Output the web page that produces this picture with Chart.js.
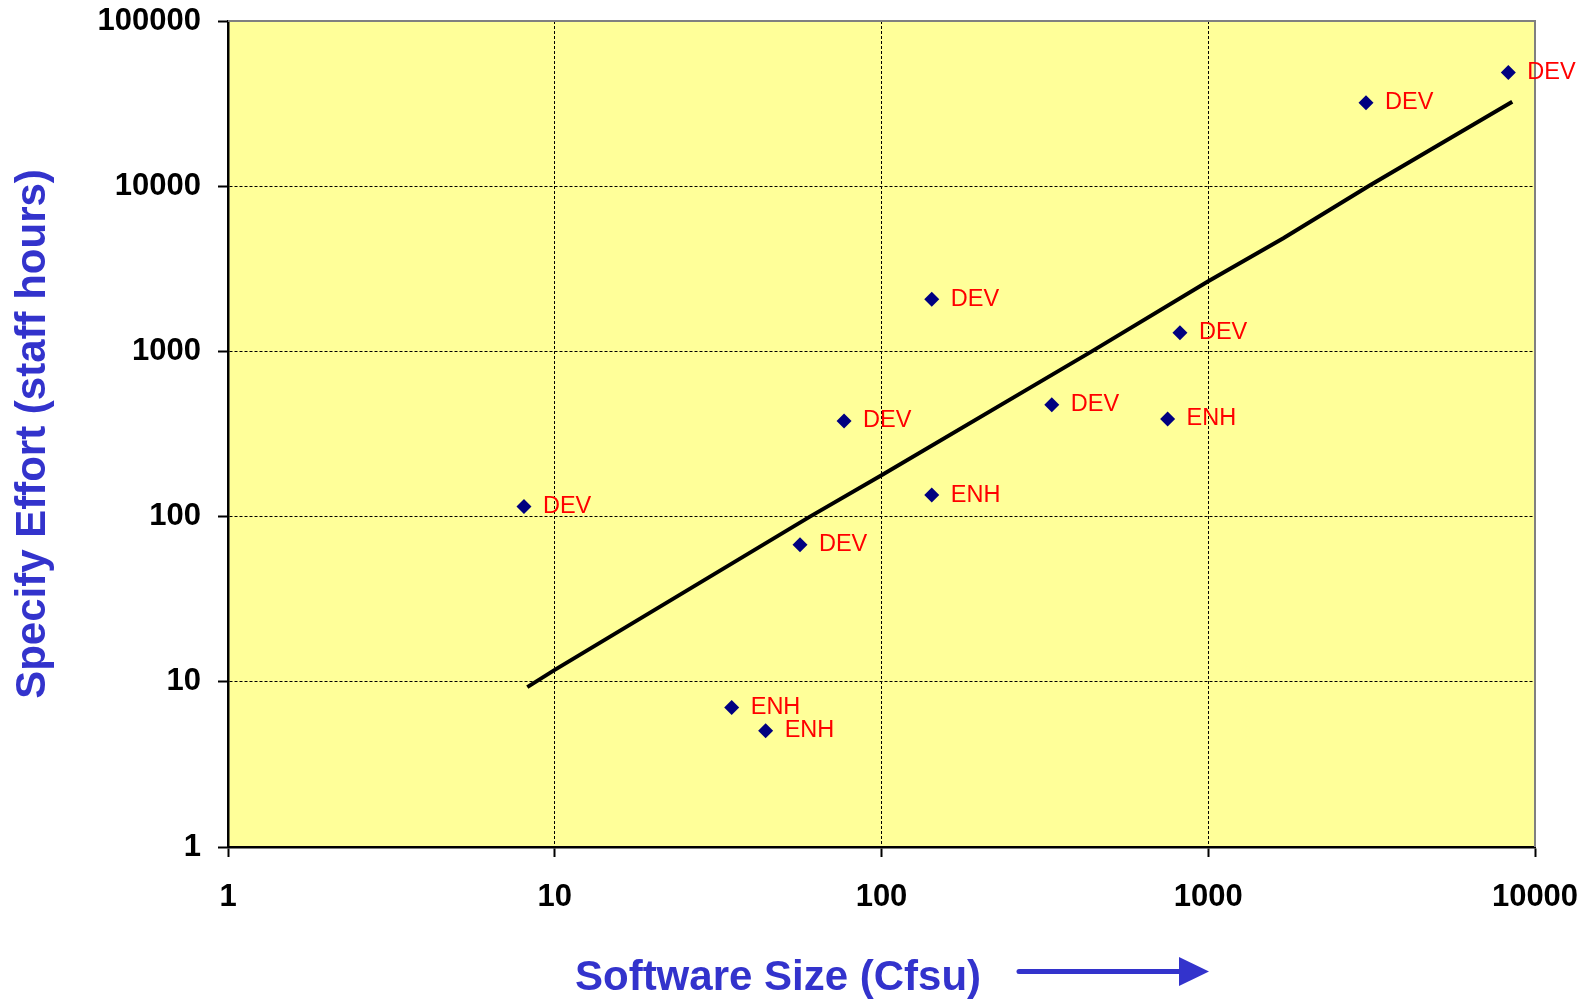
<!DOCTYPE html>
<html>
<head>
<meta charset="utf-8">
<script src="https://cdn.jsdelivr.net/npm/chart.js@4"></script>
<style>
    body { margin: 0; background: #fff; }
</style>
</head>
<body>
<canvas id="myChart-effort" width="1587" height="1000"></canvas>
<script>
// projects
const sizes = [8.05, 56.3, 76.8, 142.5, 142.5, 34.8, 44.2, 332, 751, 819, 3040, 8285];
const efforts = [115, 67.6, 379, 2070, 135, 7.0, 5.06, 476, 390, 1298, 32030, 48830];
const types = ['DEV', 'DEV', 'DEV', 'DEV', 'ENH', 'ENH', 'ENH', 'DEV', 'ENH', 'DEV', 'DEV', 'DEV'];

// trend line
const trendSizes = [8.24, 10, 60.4, 100, 440, 1000, 1697, 3090, 5495, 8520];
const trendEfforts = [9.28, 11.8, 100, 178, 1000, 2660, 4840, 10000, 19500, 32480];

// axes
const xTicks = [1, 10, 100, 1000, 10000];
const yTicks = [1, 10, 100, 1000, 10000, 100000];

const fontFamily = '"Liberation Sans", Arial, sans-serif';
const titleBlue = '#3333CC';

const plotFrame = {
    id: 'plotFrame',
    beforeDraw(chart) {
        const { ctx, chartArea: a } = chart;
        ctx.save();
        ctx.fillStyle = '#FFFF99';
        ctx.fillRect(a.left, a.top, a.right - a.left, a.bottom - a.top);
        ctx.restore();
    },
    beforeDatasetsDraw(chart) {
        const { ctx, chartArea: a } = chart;
        ctx.save();
        ctx.strokeStyle = '#808080';
        ctx.lineWidth = 2;
        ctx.beginPath();
        ctx.moveTo(a.left, a.top);
        ctx.lineTo(a.right, a.top);
        ctx.lineTo(a.right, a.bottom);
        ctx.stroke();
        ctx.restore();
    },
    afterDatasetsDraw(chart) {
        const ctx = chart.ctx;
        const meta = chart.getDatasetMeta(1);
        ctx.save();
        ctx.fillStyle = '#FF0000';
        ctx.font = '23.5px ' + fontFamily;
        ctx.textAlign = 'left';
        ctx.textBaseline = 'middle';
        meta.data.forEach((pt, i) => {
            ctx.fillText(types[i], pt.x + 19, pt.y);
        });
        ctx.restore();
    },
    afterDraw(chart) {
        const ctx = chart.ctx;
        ctx.save();
        ctx.fillStyle = titleBlue;
        ctx.font = 'bold 42px ' + fontFamily;
        ctx.textAlign = 'center';
        ctx.textBaseline = 'middle';
        ctx.fillText('Software Size (Cfsu)', 778, 978);
        // arrow
        ctx.strokeStyle = titleBlue;
        ctx.lineWidth = 5;
        ctx.lineCap = 'round';
        ctx.beginPath();
        ctx.moveTo(1019, 971.5);
        ctx.lineTo(1182, 971.5);
        ctx.stroke();
        ctx.beginPath();
        ctx.moveTo(1179, 957);
        ctx.lineTo(1209, 971.5);
        ctx.lineTo(1179, 986);
        ctx.closePath();
        ctx.fill();
        ctx.restore();
    }
};

const ctx1 = document.getElementById('myChart-effort').getContext('2d');
const myChart1 = new Chart(ctx1, {
    type: 'scatter',
    data: {
        datasets: [{
            type: 'line',
            label: 'Trend',
            data: trendSizes.map((x, i) => ({ x: x, y: trendEfforts[i] })),
            borderColor: '#000000',
            borderWidth: 4,
            pointRadius: 0,
            tension: 0,
            fill: false
        }, {
            label: 'Projects',
            data: sizes.map((x, i) => ({ x: x, y: efforts[i] })),
            pointStyle: 'rectRot',
            pointRadius: 7.5,
            backgroundColor: '#000080',
            borderColor: '#000080',
            borderWidth: 0
        }]
    },
    options: {
        responsive: false,
        animation: false,
        layout: {
            padding: { top: 21, right: 52, left: 0, bottom: 0 }
        },
        plugins: {
            legend: { display: false },
            tooltip: { enabled: false }
        },
        scales: {
            x: {
                type: 'logarithmic',
                min: 1,
                max: 10000,
                afterBuildTicks: (scale) => { scale.ticks = xTicks.map(v => ({ value: v })); },
                afterFit: (scale) => {
                    scale.height = 153;
                    scale.paddingLeft = 0;
                    scale.paddingRight = 0;
                },
                ticks: {
                    callback: (v) => String(v),
                    color: '#000',
                    padding: 22,
                    maxRotation: 0,
                    font: { family: fontFamily, size: 31, weight: 'bold' }
                },
                grid: {
                    color: '#000',
                    lineWidth: 1,
                    tickLength: 10,
                    tickColor: '#000',
                    tickWidth: 2
                },
                border: { color: '#000', width: 2.5, dash: [3, 2] }
            },
            y: {
                type: 'logarithmic',
                min: 1,
                max: 100000,
                afterBuildTicks: (scale) => { scale.ticks = yTicks.map(v => ({ value: v })); },
                afterFit: (scale) => {
                    scale.width = 228;
                    scale.paddingTop = 0;
                    scale.paddingBottom = 0;
                },
                ticks: {
                    callback: (v) => String(v),
                    color: '#000',
                    padding: 17,
                    font: { family: fontFamily, size: 31, weight: 'bold' }
                },
                grid: {
                    color: '#000',
                    lineWidth: 1,
                    tickLength: 10,
                    tickColor: '#000',
                    tickWidth: 2
                },
                border: { color: '#000', width: 2.5, dash: [3, 2] },
                title: {
                    display: true,
                    text: 'Specify Effort (staff hours)',
                    color: titleBlue,
                    padding: { top: 8, bottom: 0 },
                    font: { family: fontFamily, size: 42, weight: 'bold' }
                }
            }
        }
    },
    plugins: [plotFrame]
});
</script>
</body>
</html>
